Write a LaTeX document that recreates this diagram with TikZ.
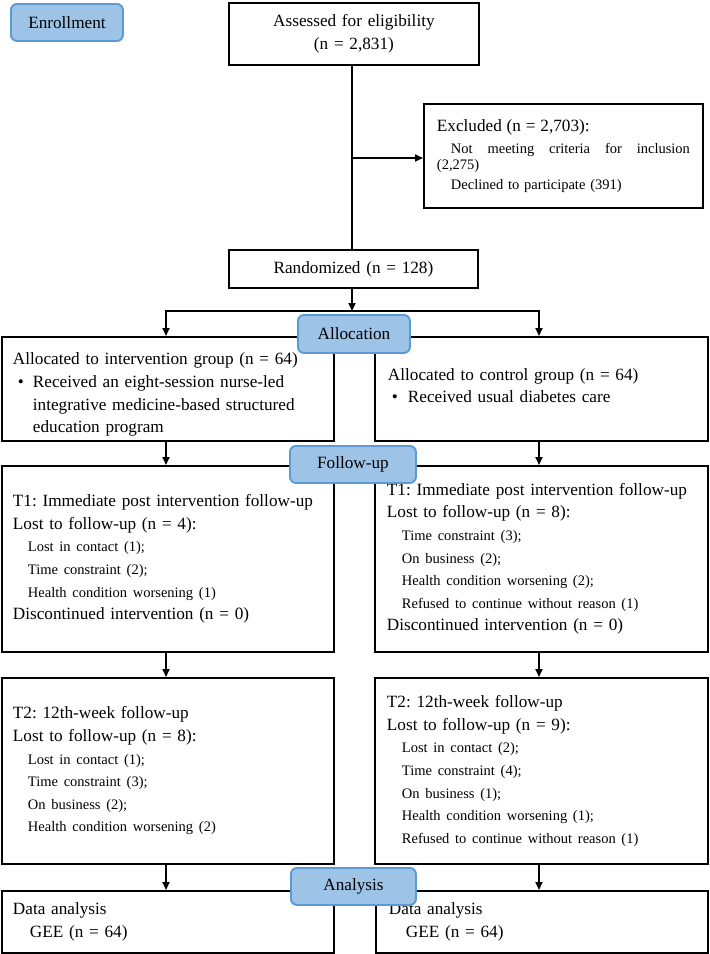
\documentclass[tikz,border=0pt]{standalone}
\usepackage{fontspec}
\setmainfont{Liberation Serif}
\usetikzlibrary{arrows.meta}
\frenchspacing
\definecolor{tagfill}{RGB}{157,195,230}
\definecolor{tagedge}{RGB}{91,155,213}
\newcommand\fbig{\fontsize{17.2}{22.6}\selectfont\frenchspacing}
\newcommand\fsmall{\fontsize{14.5}{22.6}\selectfont}
\tikzset{
  box/.style={draw, line width=1.9pt, anchor=north west, inner xsep=11pt, inner ysep=0pt, align=left, font=\fbig},
  cbox/.style={box, align=center},
  tag/.style={draw=tagedge, fill=tagfill, line width=1.9pt, rounded corners=6pt, anchor=north west, inner sep=0pt, font=\fbig},
  conn/.style={line width=1.8pt},
  arr/.style={conn, -{Triangle[length=8pt,width=7pt]}}
}
\begin{document}
\begin{tikzpicture}[x=1pt,y=-1pt]
\useasboundingbox (0,0) rectangle (710,954);

% boxes
\node[cbox, text width=228pt, minimum height=62pt] (assess) at (228,2) {Assessed for eligibility\\(n = 2,831)};
\node[box, inner xsep=13pt, text width=253pt, minimum height=104pt, font=\fontsize{14.5}{16}\selectfont\frenchspacing] (excl) at (423,103)
  {{\fbig Excluded (n = 2,703):}\\[6pt]
   \makebox[253pt][s]{\hspace*{14pt}Not\hfill meeting\hfill criteria\hfill for\hfill inclusion}\\
   (2,275)\\[4pt]
   \hspace*{14pt}Declined to participate (391)};
\node[cbox, text width=227pt, minimum height=38pt] (random) at (228,249) {Randomized (n = 128)};

\node[box, text width=310pt, minimum height=104pt] (interv) at (1,336)
  {\rule{0pt}{23.5pt}Allocated to intervention group (n = 64)\\
   \hspace*{5pt}\makebox[15pt][l]{•}Received an eight-session nurse-led\\
   \hspace*{20pt}integrative medicine-based structured\\
   \hspace*{20pt}education program};
\node[box, inner xsep=13pt, text width=307pt, minimum height=104pt] (control) at (374,336)
  {Allocated to control group (n = 64)\\
   \hspace*{4pt}\makebox[16pt][l]{•}Received usual diabetes care\rule[-7pt]{0pt}{1pt}};

\node[box, text width=310pt, minimum height=186pt] (t1L) at (1,465)
  {T1: Immediate post intervention follow-up\\
   Lost to follow-up (n = 4):\\
   \hspace*{15pt}{\fsmall Lost in contact (1);}\\
   \hspace*{15pt}{\fsmall Time constraint (2);}\\
   \hspace*{15pt}{\fsmall Health condition worsening (1)}\\
   Discontinued intervention (n = 0)};
\node[box, inner xsep=12pt, text width=309pt, minimum height=186pt] (t1R) at (374,465)
  {T1: Immediate post intervention follow-up\\
   Lost to follow-up (n = 8):\\
   \hspace*{15pt}{\fsmall Time constraint (3);}\\
   \hspace*{15pt}{\fsmall On business (2);}\\
   \hspace*{15pt}{\fsmall Health condition worsening (2);}\\
   \hspace*{15pt}{\fsmall Refused to continue without reason (1)}\\
   Discontinued intervention (n = 0)};

\node[box, text width=310pt, minimum height=186pt] (t2L) at (1,677)
  {T2: 12th-week follow-up\\
   Lost to follow-up (n = 8):\\
   \hspace*{15pt}{\fsmall Lost in contact (1);}\\
   \hspace*{15pt}{\fsmall Time constraint (3);}\\
   \hspace*{15pt}{\fsmall On business (2);}\\
   \hspace*{15pt}{\fsmall Health condition worsening (2)}};
\node[box, inner xsep=12pt, text width=309pt, minimum height=186pt] (t2R) at (374,677)
  {T2: 12th-week follow-up\\
   Lost to follow-up (n = 9):\\
   \hspace*{15pt}{\fsmall Lost in contact (2);}\\
   \hspace*{15pt}{\fsmall Time constraint (4);}\\
   \hspace*{15pt}{\fsmall On business (1);}\\
   \hspace*{15pt}{\fsmall Health condition worsening (1);}\\
   \hspace*{15pt}{\fsmall Refused to continue without reason (1)}};

\node[box, text width=310pt, minimum height=62pt] (dataL) at (1,890)
  {Data analysis\\\hspace*{17pt}GEE (n = 64)};
\node[box, inner xsep=13pt, text width=306pt, minimum height=62pt] (dataR) at (375,890)
  {Data analysis\\\hspace*{17pt}GEE (n = 64)};

% connectors
\coordinate (colL) at (166,0);
\coordinate (colR) at (539,0);
\coordinate (split) at (352,311);
\coordinate (splitL) at (166,311);
\coordinate (splitR) at (539,311);
\draw[conn] (assess.south -| split) -- (random.north -| split);
\coordinate (br) at (352,158);
\draw[arr] (br) -- (br -| excl.west);
\draw[arr] (random.south -| split) -- (split);
\draw[arr] (split) -| (interv.north -| splitL);
\draw[arr] (split) -| (control.north -| splitR);
\draw[arr] (interv.south -| colL) -- (t1L.north -| colL);
\draw[arr] (control.south -| colR) -- (t1R.north -| colR);
\draw[arr] (t1L.south -| colL) -- (t2L.north -| colL);
\draw[arr] (t1R.south -| colR) -- (t2R.north -| colR);
\draw[arr] (t2L.south -| colL) -- (dataL.north -| colL);
\draw[arr] (t2R.south -| colR) -- (dataR.north -| colR);

% stage tags
\node[tag, minimum width=112pt, minimum height=37pt] (enroll) at (10,3) {Enrollment};
\node[tag, minimum width=112pt, minimum height=38pt] (alloc) at (297,314) {Allocation};
\node[tag, minimum width=126pt, minimum height=37pt] (follow) at (289,445) {Follow-up};
\node[tag, minimum width=125pt, minimum height=37pt] (analysis) at (290,867) {Analysis};
\end{tikzpicture}
\end{document}
